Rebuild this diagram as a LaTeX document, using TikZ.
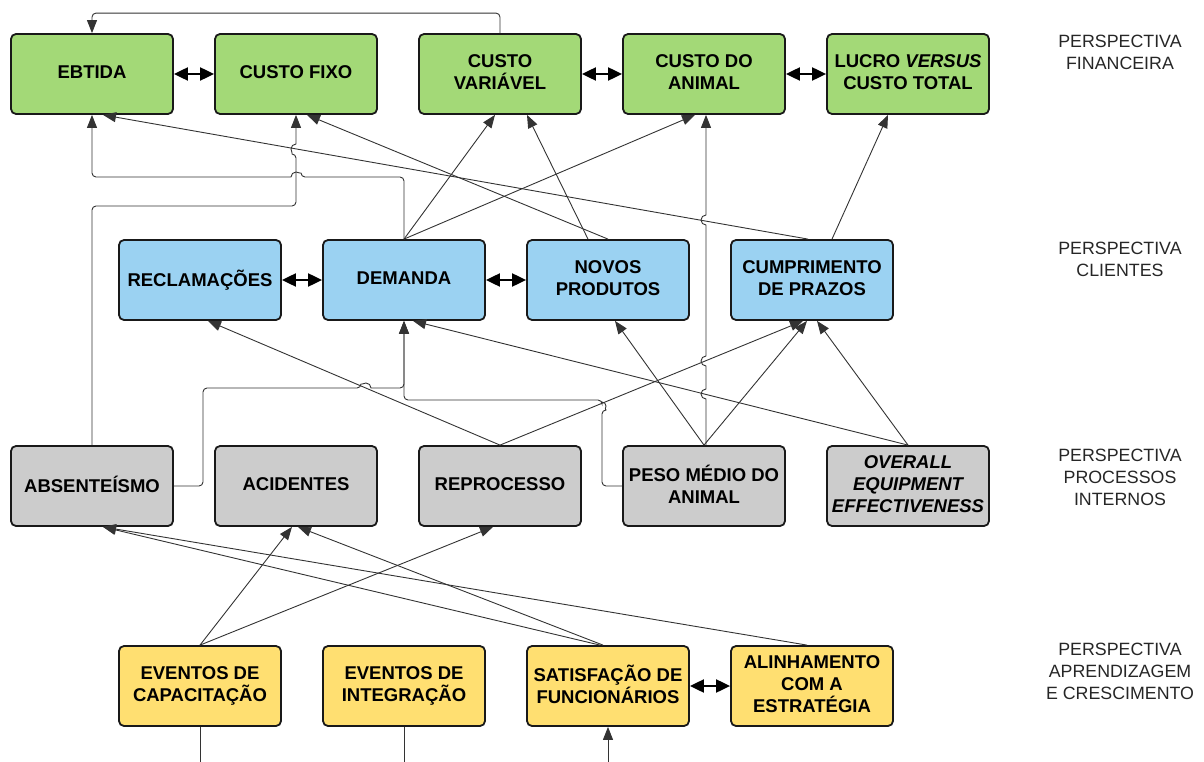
\documentclass[tikz,border=0pt]{standalone}
\usepackage{fontspec}
\setmainfont{Liberation Sans}
\usetikzlibrary{arrows.meta,calc}
\definecolor{gfill}{HTML}{A3D977}
\definecolor{bfill}{HTML}{9BD2F2}
\definecolor{pfill}{HTML}{CCCCCC}
\definecolor{yfill}{HTML}{FFDF71}
\definecolor{lcol}{HTML}{333333}
\newcommand\bxf{\fontsize{18.5}{21.7}\selectfont\bfseries}
\begin{document}
\begin{tikzpicture}[x=1pt,y=-1pt,
  box/.style={draw=black!90, line width=1.8pt, rounded corners=5pt, minimum width=162pt, minimum height=80pt, align=center, font=\bxf, inner sep=1pt, text depth=4pt},
  gbox/.style={box, fill=gfill},
  bbox/.style={box, fill=bfill},
  pbox/.style={box, fill=pfill},
  ybox/.style={box, fill=yfill},
  lab/.style={font=\fontsize{17.8}{22}\selectfont, align=center, text=black!85},
  conn/.style={draw=lcol, line width=0.9pt, -{Triangle[length=13pt,width=10pt]}},
  plain/.style={draw=lcol, line width=0.9pt},
  bidir/.style={draw=black, line width=2pt, {Triangle[length=14pt,width=13pt]}-{Triangle[length=14pt,width=13pt]}}
]
\useasboundingbox (0,0) rectangle (1204,762);
% financial
\node[gbox] (ebt) at (92,74) {EBTIDA};
\node[gbox] (cfix) at (296,74) {CUSTO FIXO};
\node[gbox] (cvar) at (500,74) {CUSTO\\VARIÁVEL};
\node[gbox] (cani) at (704,74) {CUSTO DO\\ANIMAL};
\node[gbox] (lucro) at (908,74) {LUCRO \textit{VERSUS}\\CUSTO TOTAL};
% clients
\node[bbox] (recl) at (200,280) {RECLAMAÇÕES};
\node[bbox] (dem) at (404,280) {DEMANDA};
\node[bbox] (nov) at (608,280) {NOVOS\\PRODUTOS};
\node[bbox] (cump) at (812,280) {CUMPRIMENTO\\DE PRAZOS};
% processes
\node[pbox] (abs) at (92,486) {ABSENTEÍSMO};
\node[pbox] (acid) at (296,486) {ACIDENTES};
\node[pbox] (repr) at (500,486) {REPROCESSO};
\node[pbox] (peso) at (704,486) {PESO MÉDIO DO\\ANIMAL};
\node[pbox, font=\bxf\itshape] (oee) at (908,486) {OVERALL\\EQUIPMENT\\EFFECTIVENESS};
% learning
\node[ybox] (ev1) at (200,686) {EVENTOS DE\\CAPACITAÇÃO};
\node[ybox] (ev2) at (404,686) {EVENTOS DE\\INTEGRAÇÃO};
\node[ybox] (satis) at (608,686) {SATISFAÇÃO DE\\FUNCIONÁRIOS};
\node[ybox] (alin) at (812,686) {ALINHAMENTO\\COM A\\ESTRATÉGIA};
% labels
\node[lab] (l1) at (1120,52) {PERSPECTIVA\\FINANCEIRA};
\node[lab] (l2) at (1120,259) {PERSPECTIVA\\CLIENTES};
\node[lab] (l3) at (1120,477) {PERSPECTIVA\\PROCESSOS\\INTERNOS};
\node[lab] (l4) at (1120,671) {PERSPECTIVA\\APRENDIZAGEM\\E CRESCIMENTO};
% free ends at the bottom
\coordinate (b1) at (200,762);
\coordinate (b2) at (404,762);
\coordinate (b3) at (608,762);

% bidirectional links
\draw[bidir] (ebt.east) -- (cfix.west);
\draw[bidir] (cvar.east) -- (cani.west);
\draw[bidir] (cani.east) -- (lucro.west);
\draw[bidir] (recl.east) -- (dem.west);
\draw[bidir] (dem.east) -- (nov.west);
\draw[bidir] (satis.east) -- (alin.west);

% top loop
\draw[conn, rounded corners=4pt] (cvar.north) -- ++(0,-20) -| (ebt.north);
% orthogonal paths (with line jumps)
\draw[conn, rounded corners=4pt] (dem.north) -- (404,177) -- (301,177) [sharp corners] arc (0:-180:5) [rounded corners=4pt] -- (92,177) -- (ebt.south);
\draw[conn, rounded corners=4pt] (abs.north) -- (92,206) -- (296,206) -- (296,154) [sharp corners] arc (90:270:5) -- (cfix.south);
\draw[conn, rounded corners=4pt] (abs.east) -- (203,486) -- (203,388) -- (361,388) [sharp corners] arc (180:360:5) [rounded corners=4pt] -- (404,388) -- (dem.south);
\draw[conn, rounded corners=4pt] (peso.west) -- (602,486) -- (602,410) [sharp corners] arc (90:-90:4) [rounded corners=4pt] -- (602,400) -- (404,400) -- (dem.south);
\draw[conn] ([xshift=2pt]peso.north) -- (706,399) arc (90:270:5) -- (706,366) arc (90:270:5) -- (706,225) arc (90:270:5) -- ([xshift=2pt]cani.south);
% into financial
\draw[conn] ([xshift=-4pt]cump.north) -- ([xshift=11pt]ebt.south);
\draw[conn] (nov.north) -- ([xshift=11pt]cfix.south);
\draw[conn] (dem.north) -- ([xshift=-5pt]cvar.south);
\draw[conn] ([xshift=-20pt]nov.north) -- ([xshift=27pt]cvar.south);
\draw[conn] (dem.north) -- ([xshift=-9pt]cani.south);
\draw[conn] ([xshift=20pt]cump.north) -- ([xshift=-20pt]lucro.south);
% into clients
\draw[conn] (repr.north) -- ([xshift=8pt]recl.south);
\draw[conn] (oee.north) -- ([xshift=9pt]dem.south);
\draw[conn] (peso.north) -- ([xshift=7pt]nov.south);
\draw[conn] (repr.north) -- ([xshift=-9pt]cump.south);
\draw[conn] (peso.north) -- ([xshift=-5pt]cump.south);
\draw[conn] (oee.north) -- ([xshift=5pt]cump.south);
% into processes
\draw[conn] ([xshift=-8pt]satis.north) -- ([xshift=11pt]abs.south);
\draw[conn] ([xshift=-5pt]alin.north) -- ([xshift=11pt]abs.south);
\draw[conn] (ev1.north) -- ([xshift=-4pt]acid.south);
\draw[conn] ([xshift=-5pt]satis.north) -- ([xshift=2pt]acid.south);
\draw[conn] (ev1.north) -- ([xshift=-7pt]repr.south);
% bottom stubs
\draw[plain] (ev1.south) -- (b1);
\draw[plain] (ev2.south) -- (b2);
\draw[conn] (b3) -- (satis.south);
\end{tikzpicture}
\end{document}
